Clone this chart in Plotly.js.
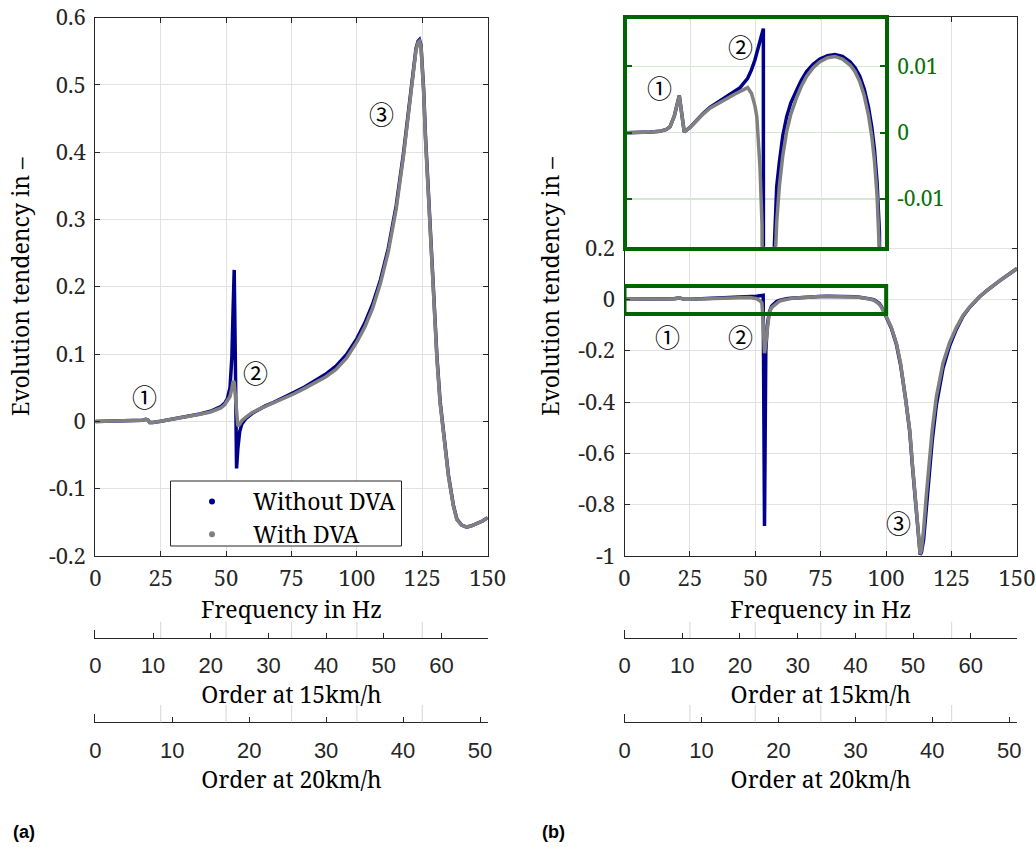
<!DOCTYPE html>
<html><head><meta charset="utf-8">
<script src="https://cdn.plot.ly/plotly-3.0.1.min.js"></script>
<style>html,body{margin:0;padding:0;background:#fff}#chart{width:1036px;height:847px}</style>
</head><body><div id="chart"></div>
<script>
// ---------------- data ----------------
const seriesNames = ['Without DVA', 'With DVA'];

// panel (a)
const freqA = [0, 5, 10, 15, 18, 19.3, 20.1, 20.8, 22, 25,
  30, 35, 40, 44, 46, 48, 49.5, 50.5, 51.5, 52.2,
  52.7, 53.1, 53.5, 54.0, 54.5, 55.2, 56, 57.5, 60, 62,
  65, 68, 72, 76, 80, 84, 88, 92, 96, 100,
  103, 106, 109, 112, 115, 117.8, 120.3, 121.5, 122.6, 123.4,
  123.9, 124.5, 125.0, 125.5, 126.2, 126.9, 127.6, 128.4, 129.3, 130.6,
  131.8, 133.1, 135, 136.9, 138.2, 140, 142, 144, 146, 148,
  150];
const withDvaA = [0, 0.0002, 0.0005, 0.001, 0.0017, 0.0032, 0.0022, -0.0015, -0.0015, 0.0002,
  0.0033, 0.0065, 0.0105, 0.014, 0.017, 0.020, 0.025, 0.030, 0.037, 0.049,
  0.060, 0.058, 0.035, 0.005, -0.007, -0.004, 0.001, 0.006, 0.013, 0.017,
  0.022, 0.027, 0.034, 0.041, 0.049, 0.057, 0.066, 0.077, 0.094, 0.118,
  0.140, 0.168, 0.205, 0.252, 0.315, 0.394, 0.477, 0.518, 0.552, 0.563,
  0.565, 0.557, 0.530, 0.490, 0.420, 0.368, 0.315, 0.250, 0.185, 0.092,
  0.027, -0.017, -0.082, -0.126, -0.146, -0.154, -0.157, -0.155, -0.152, -0.148,
  -0.143];
const withoutDvaA = [0, 0.0002, 0.0005, 0.001, 0.0017, 0.0032, 0.0022, -0.0015, -0.0015, 0.0002,
  0.0035, 0.0068, 0.011, 0.015, 0.018, 0.022, 0.027, 0.034, 0.050, 0.095,
  0.170, 0.225, 0.100, -0.070, -0.040, -0.015, -0.004, 0.004, 0.012, 0.017,
  0.023, 0.028, 0.035, 0.043, 0.051, 0.060, 0.070, 0.082, 0.099, 0.123,
  0.146, 0.174, 0.210, 0.257, 0.320, 0.398, 0.480, 0.521, 0.554, 0.565,
  0.567, 0.559, 0.533, 0.494, 0.425, 0.373, 0.320, 0.255, 0.190, 0.096,
  0.030, -0.015, -0.080, -0.125, -0.145, -0.154, -0.157, -0.155, -0.152, -0.148,
  -0.143];

// panel (b)
const freqB = [0, 5, 10, 13.5, 16, 17.4, 19, 20.9, 22.8, 25,
  27.6, 30, 32.6, 36, 39, 42, 44.1, 47.0, 48.5, 49.8,
  50.5, 51.7, 52.5, 53.0, 53.5, 54.0, 54.6, 55.3, 56.2, 57.1,
  57.6, 58.1, 59.1, 60.4, 61.9, 63.5, 65.7, 67.5, 69.5, 72,
  74.6, 77.5, 80.3, 83.2, 86.1, 88, 89.8, 91.5, 93.1, 94.4,
  95.4, 96.4, 97.3, 98.2, 98.7, 100.1, 102, 103.9, 105.5, 107.4,
  109.0, 110.0, 111.0, 112.0, 112.5, 113.0, 113.5, 114.3, 115.3, 116.3,
  117.6, 119.2, 121.7, 124.2, 126.8, 129.3, 131.9, 135.7, 138.2, 143.3,
  146.5, 150];
const withDvaB = [0, 0, 0.0001, 0.0002, 0.0005, 0.0009, 0.0025, 0.0056, 0.0001, 0.0008,
  0.0019, 0.0028, 0.0037, 0.0045, 0.0052, 0.0058, 0.0062, 0.0068, 0.0059, 0.0040,
  0.0024, -0.0051, -0.014, -0.09, -0.21, -0.17, -0.10, -0.055, -0.032, -0.024,
  -0.019, -0.0135, -0.0081, -0.0035, 0.0002, 0.0028, 0.0053, 0.0070, 0.0085, 0.0098,
  0.0107, 0.0113, 0.0115, 0.0111, 0.0102, 0.0092, 0.0077, 0.0056, 0.0027, -0.0006,
  -0.0042, -0.0095, -0.018, -0.031, -0.043, -0.068, -0.11, -0.171, -0.249, -0.379,
  -0.509, -0.639, -0.769, -0.899, -0.955, -0.993, -0.975, -0.899, -0.769, -0.639,
  -0.509, -0.379, -0.249, -0.17, -0.11, -0.064, -0.03, 0.01, 0.032, 0.072,
  0.095, 0.12];
const withoutDvaB = [0, 0, 0.0001, 0.0002, 0.0005, 0.0009, 0.0025, 0.0056, 0.0001, 0.0008,
  0.0019, 0.0029, 0.0038, 0.0047, 0.0055, 0.0062, 0.0068, 0.0082, 0.0095, 0.0110,
  0.0120, 0.0137, 0.0150, 0.0157, -0.883, -0.20, -0.10, -0.052, -0.027, -0.0172,
  -0.012, -0.0081, -0.0045, -0.0005, 0.0024, 0.0045, 0.0064, 0.0079, 0.0092, 0.0103,
  0.0111, 0.0116, 0.0118, 0.0115, 0.0107, 0.0098, 0.0085, 0.0066, 0.0039, 0.0008,
  -0.0025, -0.0075, -0.015, -0.028, -0.040, -0.066, -0.113, -0.175, -0.255, -0.385,
  -0.515, -0.645, -0.775, -0.905, -0.96, -0.995, -0.985, -0.937, -0.82, -0.69,
  -0.55, -0.41, -0.27, -0.182, -0.117, -0.067, -0.031, 0.01, 0.032, 0.072,
  0.095, 0.12];

// ticks
const freqTicks = [0, 25, 50, 75, 100, 125, 150];
const freqTickText = ['0', '25', '50', '75', '100', '125', '150'];
const freqGrid = [25, 50, 75, 100, 125];
const yTicksA = [-0.2, -0.1, 0, 0.1, 0.2, 0.3, 0.4, 0.5, 0.6];
const yTickTextA = ['-0.2', '-0.1', '0', '0.1', '0.2', '0.3', '0.4', '0.5', '0.6'];
const yTicksB = [-1, -0.8, -0.6, -0.4, -0.2, 0, 0.2];
const yTickTextB = ['-1', '-0.8', '-0.6', '-0.4', '-0.2', '0', '0.2'];
const insetTicks = [-0.01, 0, 0.01];
const insetTickText = ['-0.01', '0', '0.01'];
const order15Ticks = [0, 10, 20, 30, 40, 50, 60];
const order20Ticks = [0, 10, 20, 30, 40, 50];
const order15Max = 68.0;
const order20Max = 51.0;
const zoomFreq = [0, 100];
const zoomVal = [-0.057, 0.052];

// labels: circled numbers
const labelsA = [{t: '①', f: 18.7, v: 0.037}, {t: '②', f: 61.1, v: 0.073}, {t: '③', f: 109.3, v: 0.458}];
const labelsB = [{t: '①', f: 16.3, v: -0.142}, {t: '②', f: 44.5, v: -0.142}, {t: '③', f: 104.9, v: -0.866}];
const labelsInset = [{t: '①', f: 13.3, v: 0.0069}, {t: '②', f: 44.4, v: 0.0131}];

// ---------------- layout helpers ----------------
const W = 1036, H = 847;
const px = v => v / W;
const py = v => 1 - v / H;
const AXC = '#262626', GRID = '#e2e2e2', GREEN = '#006400';
const BLUE = '#00008b', GRAY = '#808080';
const SERIF = 'Noto Serif, DejaVu Serif, serif';
const numFont = {family: SERIF, size: 22, color: AXC};
const sansFont = {family: 'Liberation Sans, Arial, sans-serif', size: 22, color: AXC};
const titleFont = {family: SERIF, size: 23, color: '#000'};

const domXA = [px(95.3), px(487.7)];
const domXB = [px(624.5), px(1017)];

function mainX(domain, anchor) {
  return {domain, anchor, range: [0, 150], tickvals: freqTicks, ticktext: freqTickText,
    ticks: 'inside', ticklen: 5, tickcolor: AXC, showline: true, linecolor: AXC, linewidth: 1,
    mirror: 'ticks', showgrid: true, gridcolor: GRID, zeroline: false, tickfont: numFont,
    ticklabelstandoff: 3,
    title: {text: 'Frequency in Hz', font: titleFont, standoff: 10}};
}
function mainY(domain, anchor, range, tv, tt) {
  return {domain, anchor, range, tickvals: tv, ticktext: tt,
    ticks: 'inside', ticklen: 5, tickcolor: AXC, showline: true, linecolor: AXC, linewidth: 1,
    mirror: 'ticks', showgrid: true, gridcolor: GRID, zeroline: false, tickfont: numFont,
    ticklabelstandoff: 4,
    title: {text: 'Evolution tendency in –', font: titleFont, standoff: 12}};
}
function orderX(domain, anchor, max, tv, title) {
  return {domain, anchor, range: [0, max], tickvals: tv, ticks: 'inside', ticklen: 5,
    tickcolor: AXC, showline: true, linecolor: AXC, linewidth: 1, showgrid: false,
    zeroline: false, tickfont: sansFont, ticklabelstandoff: 8,
    title: {text: title, font: titleFont, standoff: 5}};
}
function orderY(lineY, anchor) {
  return {domain: [py(lineY), py(lineY - 8)], anchor, range: [0, 1], showline: true,
    linecolor: AXC, linewidth: 1, ticks: '', showticklabels: false, showgrid: false, zeroline: false};
}

// ---------------- traces ----------------
const traces = [];
// legend-only entries
traces.push({x: [null], y: [null], mode: 'markers', name: seriesNames[0], marker: {color: BLUE, size: 6}, xaxis: 'x', yaxis: 'y', hoverinfo: 'skip'});
traces.push({x: [null], y: [null], mode: 'markers', name: seriesNames[1], marker: {color: GRAY, size: 6}, xaxis: 'x', yaxis: 'y', hoverinfo: 'skip'});

function pair(freq, without, withv, xa, ya) {
  traces.push({x: freq, y: without, mode: 'lines', line: {color: BLUE, width: 3.5}, xaxis: xa, yaxis: ya, showlegend: false, name: seriesNames[0]});
  traces.push({x: freq, y: withv, mode: 'lines', line: {color: GRAY, width: 3.5}, xaxis: xa, yaxis: ya, showlegend: false, name: seriesNames[1]});
}
pair(freqA, withoutDvaA, withDvaA, 'x', 'y');
pair(freqB, withoutDvaB, withDvaB, 'x2', 'y2');
pair(freqB, withoutDvaB, withDvaB, 'x3', 'y3');
// empty traces for the order-axis subplots
['4', '5', '6', '7'].forEach(n => traces.push({x: [], y: [], xaxis: 'x' + n, yaxis: 'y' + n, showlegend: false, hoverinfo: 'skip'}));

// ---------------- shapes ----------------
const shapes = [];
[['x', 638, 621.7], ['x', 722.3, 705], ['x2', 638, 621.7], ['x2', 722.3, 705]].forEach(([xr, y0, y1]) => {
  freqGrid.forEach(f => shapes.push({type: 'line', xref: xr, yref: 'paper', x0: f, x1: f, y0: py(y0), y1: py(y1), line: {color: '#dcdcdc', width: 1.2}, layer: 'above'}));
});
// zoom window in (b)
shapes.push({type: 'rect', xref: 'x2', yref: 'y2', x0: zoomFreq[0], x1: zoomFreq[1], y0: zoomVal[0], y1: zoomVal[1], line: {color: GREEN, width: 4}, layer: 'above'});
// legend box
shapes.push({type: 'rect', xref: 'paper', yref: 'paper', x0: px(170.5), x1: px(401.5), y0: py(546), y1: py(481), fillcolor: '#fff', line: {color: AXC, width: 1}, layer: 'above'});

// ---------------- annotations ----------------
const circFont = {family: 'Noto Sans CJK SC, DejaVu Sans, sans-serif', size: 25, color: '#000'};
const annotations = [];
labelsA.forEach(l => annotations.push({text: l.t, x: l.f, y: l.v, xref: 'x', yref: 'y', showarrow: false, font: circFont}));
labelsB.forEach(l => annotations.push({text: l.t, x: l.f, y: l.v, xref: 'x2', yref: 'y2', showarrow: false, font: circFont}));
labelsInset.forEach(l => annotations.push({text: l.t, x: l.f, y: l.v, xref: 'x3', yref: 'y3', showarrow: false, font: circFont}));
const panelFont = {family: 'Liberation Sans, Arial, sans-serif', size: 18, color: '#000'};
annotations.push({text: '<b>(a)</b>', x: px(23.5), y: py(832), xref: 'paper', yref: 'paper', xanchor: 'center', yanchor: 'middle', showarrow: false, font: panelFont});
annotations.push({text: '<b>(b)</b>', x: px(553), y: py(832), xref: 'paper', yref: 'paper', xanchor: 'center', yanchor: 'middle', showarrow: false, font: panelFont});

// ---------------- layout ----------------
const layout = {
  width: W, height: H, margin: {l: 0, r: 0, t: 0, b: 0},
  paper_bgcolor: '#fff', plot_bgcolor: '#fff', showlegend: true,
  legend: {x: px(171), y: py(480), xanchor: 'left', yanchor: 'top', bgcolor: 'rgba(0,0,0,0)', borderwidth: 0,
    itemwidth: 72, font: {family: SERIF, size: 23, color: '#000'}, tracegroupgap: 0},
  xaxis: mainX(domXA, 'y'),
  yaxis: mainY([py(556), py(17.5)], 'x', [-0.2, 0.6], yTicksA, yTickTextA),
  xaxis2: mainX(domXB, 'y2'),
  yaxis2: mainY([py(556), py(17)], 'x2', [-1, 1.1], yTicksB, yTickTextB),
  xaxis3: {domain: [px(626.5), px(885)], anchor: 'y3', range: [0.76, 99.43], tickvals: [25, 50, 75],
    showticklabels: false, ticks: '', showgrid: true, gridcolor: GRID, showline: true,
    linecolor: GREEN, linewidth: 4, mirror: true, zeroline: false},
  yaxis3: {domain: [py(246.7), py(19.3)], anchor: 'x3', side: 'right', range: [-0.0172, 0.0171],
    tickvals: insetTicks, ticktext: insetTickText, ticks: 'inside', ticklen: 5, tickwidth: 2,
    tickcolor: GREEN, showline: true, linecolor: GREEN, linewidth: 4, mirror: 'ticks',
    showgrid: true, gridcolor: '#d6e6d6', gridwidth: 1.5, zeroline: false,
    tickfont: {family: SERIF, size: 21, color: '#087008'}, ticklabelstandoff: 4},
  xaxis4: orderX(domXA, 'y4', order15Max, order15Ticks, 'Order at 15km/h'),
  yaxis4: orderY(638, 'x4'),
  xaxis5: orderX(domXA, 'y5', order20Max, order20Ticks, 'Order at 20km/h'),
  yaxis5: orderY(722.3, 'x5'),
  xaxis6: orderX(domXB, 'y6', order15Max, order15Ticks, 'Order at 15km/h'),
  yaxis6: orderY(638, 'x6'),
  xaxis7: orderX(domXB, 'y7', order20Max, order20Ticks, 'Order at 20km/h'),
  yaxis7: orderY(722.3, 'x7'),
  shapes, annotations
};

Plotly.newPlot('chart', traces, layout, {staticPlot: true, displayModeBar: false});
</script>
</body></html>
